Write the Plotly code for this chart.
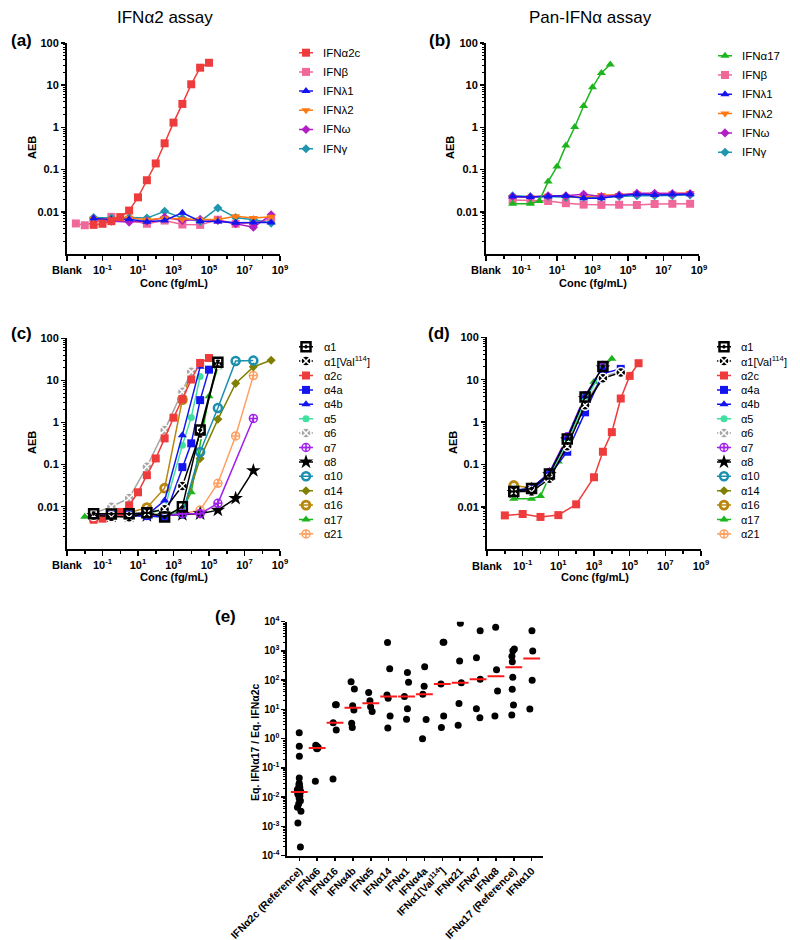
import numpy as np
import plotly.graph_objects as go

W, H = 800, 940
FONT = "Liberation Sans, Arial, sans-serif"

# ---------------- data: concentrations given as log10(fg/mL) ----------------
BASE_LOGX = [-1.5, -0.5, 0.5, 1.5, 2.5, 3.5, 4.5, 5.5, 6.5, 7.5, 8.5]

# (a) IFNα2 assay
A_A2C_LOGX = [-1.5, -1, -0.5, 0, 0.5, 1, 1.5, 2, 2.5, 3, 3.5, 4, 4.5, 5]
A_A2C_AEB = [0.0049, 0.0052, 0.006, 0.0075, 0.0107, 0.022, 0.056, 0.14, 0.42, 1.3, 3.6, 10.5, 26, 34]
A_BETA_LOGX = [-2.5, -2, -0.5, 1.5, 2.5, 3.5, 4.5, 5.5, 6.5, 7.5, 8.5]
A_BETA_AEB = [0.0053, 0.0048, 0.0076, 0.0052, 0.0062, 0.005, 0.0049, 0.0065, 0.0052, 0.0055, 0.0068]
A_L1_AEB = [0.0069, 0.0066, 0.0067, 0.0058, 0.0062, 0.0095, 0.006, 0.0059, 0.0055, 0.0056, 0.0056]
A_L2_AEB = [0.0068, 0.0068, 0.0072, 0.0065, 0.007, 0.0067, 0.0066, 0.0066, 0.0078, 0.0071, 0.0076]
A_OMEGA_AEB = [0.0068, 0.006, 0.0057, 0.006, 0.0074, 0.0062, 0.0066, 0.0062, 0.0052, 0.0043, 0.0085]
A_GAMMA_AEB = [0.0073, 0.0071, 0.0073, 0.0071, 0.0103, 0.0071, 0.0059, 0.0123, 0.0073, 0.0065, 0.0054]

# (b) Pan-IFNα assay
B_A17_LOGX = [-1.5, -0.5, 0, 0.5, 1, 1.5, 2, 2.5, 3, 3.5, 4]
B_A17_AEB = [0.0155, 0.0155, 0.018, 0.052, 0.118, 0.37, 1.02, 3.2, 8.9, 19.5, 31]
B_BETA_AEB = [0.019, 0.0185, 0.018, 0.016, 0.0148, 0.0146, 0.0147, 0.0145, 0.0153, 0.0155, 0.0155]
B_L1_AEB = [0.023, 0.0225, 0.023, 0.024, 0.021, 0.021, 0.024, 0.026, 0.025, 0.026, 0.026]
B_L2_AEB = [0.022, 0.022, 0.024, 0.023, 0.022, 0.025, 0.025, 0.027, 0.026, 0.027, 0.028]
B_OMEGA_AEB = [0.023, 0.0225, 0.024, 0.024, 0.026, 0.023, 0.025, 0.0275, 0.0275, 0.027, 0.027]
B_GAMMA_AEB = [0.024, 0.023, 0.023, 0.022, 0.022, 0.022, 0.023, 0.024, 0.024, 0.024, 0.025]

# (c) IFNα2 assay, IFNα subtypes
C_SERIES = {
    "α1": ([-1.5, -0.5, 0.5, 1.5, 2.5, 3.5, 4.5, 5.5],
           [0.0068, 0.0067, 0.0068, 0.0072, 0.0057, 0.01, 0.66, 27]),
    "α1[Val114]": ([-1.5, -0.5, 0.5, 1.5, 2.5, 3.5, 4.5, 5.5],
                   [0.0062, 0.0058, 0.0056, 0.0072, 0.0087, 0.031, 0.55, 25]),
    "α2c": (A_A2C_LOGX, A_A2C_AEB),
    "α4a": ([-1.5, -0.5, 0.5, 1.5, 2.5, 3.5, 4.0, 4.5, 5.0],
            [0.0064, 0.0063, 0.0062, 0.006, 0.0056, 0.087, 0.32, 3.4, 18]),
    "α4b": ([-1.5, -0.5, 0.5, 1.5, 2.5, 3.5, 4.5],
            [0.0066, 0.0066, 0.0065, 0.0063, 0.014, 0.5, 21]),
    "α5": ([-1.5, -0.5, 0.5, 1.5, 2.5, 3.5, 4.0, 4.5],
           [0.0065, 0.0065, 0.0064, 0.0066, 0.009, 0.29, 1.32, 12.3]),
    "α6": ([-1.5, -0.5, 0.5, 1.5, 2.5, 3.5, 4.0],
           [0.007, 0.01, 0.016, 0.089, 0.66, 5.4, 16]),
    "α7": ([-1.5, -0.5, 0.5, 1.5, 2.5, 3.5, 4.5, 5.5, 7.5],
           [0.0065, 0.0064, 0.0063, 0.0062, 0.006, 0.0068, 0.0068, 0.012, 1.25]),
    "α8": ([-1.5, -0.5, 0.5, 1.5, 2.5, 3.5, 4.5, 5.5, 6.5, 7.5],
           [0.0062, 0.006, 0.006, 0.0062, 0.0062, 0.0065, 0.0068, 0.0083, 0.0158, 0.072]),
    "α10": ([-1.5, -0.5, 0.5, 1.5, 2.5, 3.5, 4.5, 5.5, 6.5, 7.5],
            [0.0066, 0.0065, 0.0066, 0.0065, 0.0065, 0.0068, 0.2, 2.2, 29, 29.5]),
    "α14": ([-1.5, -0.5, 0.5, 1.5, 2.5, 3.5, 4.5, 5.5, 6.5, 7.5, 8.5],
            [0.0065, 0.0064, 0.0065, 0.0064, 0.0063, 0.0066, 0.14, 1.19, 8.5, 21, 30]),
    "α16": ([-1.5, -0.5, 0.5, 1.5, 2.5, 3.5, 4.0],
            [0.0068, 0.0068, 0.0072, 0.0095, 0.0275, 3.5, 16]),
    "α17": ([-2.0, -1.5, -0.5, 0.5, 1.5, 2.5, 3.5, 4.0, 5.0, 5.5],
            [0.0058, 0.006, 0.0062, 0.0062, 0.0063, 0.0065, 0.0085, 0.022, 4.2, 20.5]),
    "α21": ([-1.5, -0.5, 0.5, 1.5, 2.5, 3.5, 4.5, 5.5, 6.5, 7.5],
            [0.0066, 0.0066, 0.0065, 0.0066, 0.0066, 0.0068, 0.0083, 0.036, 0.48, 13]),
}

# (d) Pan-IFNα assay, IFNα subtypes
D_LOGX = [-1.5, -0.5, 0.5, 1.5, 2.5, 3.5, 4.5]
D_SERIES = {
    "α1": (D_LOGX[:6], [0.023, 0.027, 0.06, 0.4, 3.9, 20.5]),
    "α1[Val114]": (D_LOGX, [0.023, 0.023, 0.046, 0.27, 2.5, 10.8, 14.8]),
    "α2c": ([-2, -1, 0, 1, 2, 3, 3.5, 4, 4.5, 5, 5.5],
            [0.0063, 0.0068, 0.0058, 0.0064, 0.0115, 0.05, 0.2, 0.58, 3.6, 12.3, 24.5]),
    "α4a": (D_LOGX, [0.023, 0.025, 0.055, 0.2, 1.7, 14, 18]),
    "α4b": (D_LOGX[:6], [0.024, 0.028, 0.062, 0.42, 4.0, 19]),
    "α5": (D_LOGX[:6], [0.022, 0.025, 0.055, 0.35, 3.2, 18]),
    "α6": (D_LOGX, [0.024, 0.027, 0.05, 0.3, 2.8, 12, 15.5]),
    "α7": (D_LOGX[:6], [0.023, 0.027, 0.065, 0.45, 4.2, 20]),
    "α8": (D_LOGX[:6], [0.022, 0.026, 0.058, 0.38, 3.6, 19]),
    "α10": (D_LOGX[:6], [0.025, 0.027, 0.06, 0.4, 3.8, 20]),
    "α14": (D_LOGX[:6], [0.022, 0.026, 0.06, 0.38, 3.7, 19]),
    "α16": (D_LOGX[:6], [0.032, 0.028, 0.058, 0.38, 3.5, 18]),
    "α17": (B_A17_LOGX, B_A17_AEB),
    "α21": (D_LOGX[:6], [0.023, 0.026, 0.055, 0.36, 3.4, 18]),
}

# (e) ratio of equivalent concentrations
E_CATS = ["IFNα2c (Reference)", "IFNα6", "IFNα16", "IFNα4b", "IFNα5", "IFNα14", "IFNα1",
          "IFNα4a", "IFNα1[Val114]", "IFNα21", "IFNα7", "IFNα8", "IFNα17 (Reference)", "IFNα10"]
E_LABELS = ["IFNα2c (Reference)", "IFNα6", "IFNα16", "IFNα4b", "IFNα5", "IFNα14", "IFNα1",
            "IFNα4a", "IFNα1[Val<sup>114</sup>]", "IFNα21", "IFNα7", "IFNα8", "IFNα17 (Reference)", "IFNα10"]
E_VALUES = [
    [1.6, 0.55, 0.25, 0.045, 0.03, 0.027, 0.025, 0.022, 0.02, 0.018, 0.016, 0.015,
     0.014, 0.013, 0.012, 0.011, 0.009, 0.0075, 0.006, 0.0045, 0.0033, 0.0013, 0.0002],
    [0.6, 0.55, 0.5, 0.47, 0.45, 0.035],
    [14.5, 14.5, 3.5, 2.0, 0.042],
    [88, 50, 13.5, 9.5, 3.4, 2.4],
    [38, 20, 12.3, 8.5],
    [1950, 245, 31, 24, 6, 2.3],
    [185, 85, 27.5, 10.5, 4.6],
    [290, 62, 33, 4.5, 1.0],
    [2000, 2000, 74, 6, 2.4],
    [8800, 455, 82, 16, 2.9],
    [4900, 590, 107, 10.5, 5.2],
    [6400, 229, 43, 6],
    [1170, 1020, 656, 430, 125, 49, 14.2, 6.5],
    [4900, 1000, 100, 10.4],
]

# ---------------- styles ----------------
STY = {
    "IFNα2c": dict(color="#EE3B3B", symbol="square", size=8),
    "IFNβ": dict(color="#F0679A", symbol="square", size=8),
    "IFNλ1": dict(color="#1414EE", symbol="triangle-up", size=8),
    "IFNλ2": dict(color="#FF7A12", symbol="triangle-down", size=8),
    "IFNω": dict(color="#B01EC4", symbol="diamond", size=7),
    "IFNγ": dict(color="#1E96AE", symbol="diamond", size=7),
    "IFNα17": dict(color="#1DB51D", symbol="triangle-up", size=8),
    "α1": dict(color="black", symbol="square-open-dot", size=9, lw=2.5),
    "α1[Val114]": dict(color="black", symbol="circle-x", size=10, lw=1.5, lc="white"),
    "α2c": dict(color="#EE3B3B", symbol="square", size=8),
    "α4a": dict(color="#1414EE", symbol="square", size=8),
    "α4b": dict(color="#1414EE", symbol="triangle-up", size=8),
    "α5": dict(color="#3FE0A0", symbol="circle", size=7),
    "α6": dict(color="#A6A6A6", symbol="circle-x", size=10, lw=1.5, lc="white"),
    "α7": dict(color="#A020F0", symbol="circle-cross-open", size=8, lw=1.5),
    "α8": dict(color="black", symbol="star", size=11),
    "α10": dict(color="#1A8FAE", symbol="circle-open", size=8, lw=2.5),
    "α14": dict(color="#808000", symbol="diamond", size=7),
    "α16": dict(color="#B8860B", symbol="circle-open", size=8, lw=2.8),
    "α17": dict(color="#1DB51D", symbol="triangle-up", size=8),
    "α21": dict(color="#FFA060", symbol="circle-cross-open", size=8, lw=1.5),
}


def marker_of(s):
    st = STY[s]
    return dict(color=st["color"], symbol=st["symbol"], size=st["size"],
                line=dict(width=st.get("lw", 0), color=st.get("lc", st["color"])))


fig = go.Figure()


def add_curve(ax, name, logx, vals):
    fig.add_trace(go.Scatter(
        x=[10.0 ** v for v in logx], y=vals, mode="lines+markers", name=name,
        line=dict(color=STY[name]["color"], width=1.5), marker=marker_of(name),
        xaxis="x" + ax, yaxis="y" + ax, showlegend=False, cliponaxis=False))


# panel (a)
add_curve("", "IFNβ", A_BETA_LOGX, A_BETA_AEB)
add_curve("", "IFNγ", BASE_LOGX, A_GAMMA_AEB)
add_curve("", "IFNω", BASE_LOGX, A_OMEGA_AEB)
add_curve("", "IFNλ2", BASE_LOGX, A_L2_AEB)
add_curve("", "IFNλ1", BASE_LOGX, A_L1_AEB)
add_curve("", "IFNα2c", A_A2C_LOGX, A_A2C_AEB)
# panel (b)
add_curve("2", "IFNβ", BASE_LOGX, B_BETA_AEB)
add_curve("2", "IFNγ", BASE_LOGX, B_GAMMA_AEB)
add_curve("2", "IFNλ2", BASE_LOGX, B_L2_AEB)
add_curve("2", "IFNω", BASE_LOGX, B_OMEGA_AEB)
add_curve("2", "IFNλ1", BASE_LOGX, B_L1_AEB)
add_curve("2", "IFNα17", B_A17_LOGX, B_A17_AEB)
# panels (c), (d)
for k in reversed(list(C_SERIES.keys())):
    add_curve("3", k, *C_SERIES[k])
for k in reversed(list(D_SERIES.keys())):
    add_curve("4", k, *D_SERIES[k])

# panel (e)
ex, ey = [], []
for c, vals in zip(E_CATS, E_VALUES):
    ex += [c] * len(vals)
    ey += vals
fig.add_trace(go.Box(x=ex, y=ey, xaxis="x5", yaxis="y5", boxpoints="all", jitter=0.4,
                     pointpos=0, width=0.6, fillcolor="rgba(0,0,0,0)",
                     line=dict(color="rgba(0,0,0,0)", width=0),
                     marker=dict(color="black", size=7, line=dict(width=0)),
                     showlegend=False, hoverinfo="y"))
fig.add_trace(go.Scatter(x=E_CATS, y=[float(np.median(v)) for v in E_VALUES], mode="markers",
                         marker=dict(symbol="line-ew", size=12, line=dict(color="#FF1A1A", width=2)),
                         xaxis="x5", yaxis="y5", showlegend=False))


# ---------------- axes ----------------
def dx(x0, x1):
    return [max(0, x0 / W), min(1, x1 / W)]


def dy(y_top, y_bot):
    return [max(0, 1 - y_bot / H), min(1, 1 - y_top / H)]


TICKF = dict(family=FONT, size=11, color="black", weight="bold")
X_EXP = [-3, -1, 1, 3, 5, 7, 9]
X_TXT = ["Blank"] + ["10<sup>%d</sup>" % e for e in X_EXP[1:]]
X_MINOR = [-2, 0, 2, 4, 6, 8]
Y_MINOR = [k * 10.0 ** e for e in range(-3, 2) for k in range(2, 10)]


def conc_x(x0, x1, anchor):
    return dict(domain=dx(x0, x1), anchor=anchor, type="log", range=[-3, 9], automargin=False,
                tickmode="array", tickvals=[10.0 ** e for e in X_EXP], ticktext=X_TXT,
                ticks="outside", ticklen=5, tickwidth=1.5, tickcolor="black",
                minor=dict(tickmode="array", tickvals=[10.0 ** e for e in X_MINOR],
                           ticks="outside", ticklen=3, tickwidth=1.5, tickcolor="black"),
                showline=True, linewidth=2, linecolor="black", showgrid=False,
                zeroline=False, tickfont=TICKF)


def aeb_y(y0, y1, anchor):
    return dict(domain=dy(y0, y1), anchor=anchor, type="log", range=[-3, 2], automargin=False,
                tickmode="array", tickvals=[0.01, 0.1, 1, 10, 100],
                ticktext=["0.01", "0.1", "1", "10", "100"],
                ticks="outside", ticklen=4, tickwidth=1.5, tickcolor="black",
                minor=dict(tickmode="array", tickvals=Y_MINOR, ticks="outside",
                           ticklen=2.5, tickwidth=1, tickcolor="black"),
                showline=True, linewidth=2, linecolor="black", showgrid=False,
                zeroline=False, tickfont=TICKF)


layout = dict(
    template="none",
    width=W, height=H, margin=dict(l=0, r=0, t=0, b=0, pad=0, autoexpand=False),
    paper_bgcolor="white", plot_bgcolor="white", showlegend=False,
    xaxis=conc_x(67, 280, "y"), yaxis=aeb_y(43, 254, "x"),
    xaxis2=conc_x(486, 699, "y2"), yaxis2=aeb_y(43, 254, "x2"),
    xaxis3=conc_x(67, 280, "y3"), yaxis3=aeb_y(338.3, 548.8, "x3"),
    xaxis4=conc_x(487, 701, "y4"), yaxis4=aeb_y(337.3, 549.3, "x4"),
    xaxis5=dict(domain=dx(287.3, 543.3), anchor="y5", type="category", automargin=False,
                categoryorder="array", categoryarray=E_CATS, range=[-0.67, 13.65],
                tickmode="array", tickvals=E_CATS, ticktext=E_LABELS, tickangle=-45,
                ticks="outside", ticklen=3, tickwidth=1.5, tickcolor="black",
                showline=True, linewidth=2, linecolor="black", showgrid=False,
                zeroline=False, tickfont=dict(family=FONT, size=10.5, color="black", weight="bold")),
    yaxis5=dict(domain=dy(621.7, 855.7), anchor="x5", type="log", range=[-4, 4], automargin=False,
                tickmode="array", tickvals=[10.0 ** e for e in range(-4, 5)],
                ticktext=["10<sup>%d</sup>" % e for e in range(-4, 5)],
                ticks="outside", ticklen=4, tickwidth=1.5, tickcolor="black",
                minor=dict(tickmode="array",
                           tickvals=[k * 10.0 ** e for e in range(-4, 4) for k in range(2, 10)],
                           ticks="outside", ticklen=2, tickwidth=1, tickcolor="black"),
                showline=True, linewidth=2, linecolor="black", showgrid=False,
                zeroline=False, tickfont=dict(family=FONT, size=10, color="black", weight="bold")),
)

annotations = []


def text(x, y, s, size=11, bold=True, angle=0, xanchor="center"):
    annotations.append(dict(x=x / W, y=1 - y / H, xref="paper", yref="paper", text=s,
                            showarrow=False, textangle=angle, xanchor=xanchor, yanchor="middle",
                            font=dict(family=FONT, size=size, color="black",
                                      weight="bold" if bold else "normal")))


text(165, 17, "IFNα2 assay", size=17, bold=False)
text(590, 17, "Pan-IFNα assay", size=17, bold=False)
for lbl, x, y in [("(a)", 21, 41), ("(b)", 440, 41), ("(c)", 21, 333), ("(d)", 439, 333), ("(e)", 226, 616)]:
    text(x, y, lbl, size=17)
for x, y in [(32, 148), (450, 148), (32, 443), (453, 443)]:
    text(x, y, "AEB", angle=-90)
for x, y in [(173.5, 283), (592.5, 283), (173.5, 577), (595, 577)]:
    text(x, y, "Conc (fg/mL)")
text(255, 742, "Eq. IFNα17 / Eq. IFNα2c", angle=-90, size=10.5)

# ---------------- custom legends ----------------
LEG_A = ["IFNα2c", "IFNβ", "IFNλ1", "IFNλ2", "IFNω", "IFNγ"]
LEG_B = ["IFNα17", "IFNβ", "IFNλ1", "IFNλ2", "IFNω", "IFNγ"]
LEG_CD = list(C_SERIES.keys())


def legend_label(n):
    return n.replace("[Val114]", "[Val<sup>114</sup>]")


def add_legend(idx, names, mx, y0, sp, tx, fsize):
    n = len(names)
    xa, ya = "xaxis%d" % idx, "yaxis%d" % idx
    layout[xa] = dict(domain=dx(mx - 15, mx + 70), range=[-15, 70], visible=False,
                      anchor="y%d" % idx, fixedrange=True, automargin=False)
    layout[ya] = dict(domain=dy(y0 - sp / 2, y0 + (n - 0.5) * sp), range=[n - 0.5, -0.5],
                      visible=False, anchor="x%d" % idx, fixedrange=True, automargin=False)
    for i, nm in enumerate(names):
        fig.add_trace(go.Scatter(x=[-7, 7], y=[i, i], mode="lines",
                                 line=dict(color=STY[nm]["color"], width=1.5),
                                 xaxis="x%d" % idx, yaxis="y%d" % idx, showlegend=False,
                                 hoverinfo="skip", cliponaxis=False))
        fig.add_trace(go.Scatter(x=[0], y=[i], mode="markers", marker=marker_of(nm),
                                 xaxis="x%d" % idx, yaxis="y%d" % idx, showlegend=False,
                                 hoverinfo="skip", cliponaxis=False))
        annotations.append(dict(x=tx - mx, y=i, xref="x%d" % idx, yref="y%d" % idx,
                                text=legend_label(nm), showarrow=False, xanchor="left",
                                yanchor="middle",
                                font=dict(family=FONT, size=fsize, color="black")))


add_legend(6, LEG_A, 306, 52.7, 19.2, 321, 11.5)
add_legend(7, LEG_B, 725, 55.7, 19.3, 740, 11.5)
add_legend(8, LEG_CD, 306, 346.7, 14.4, 321.5, 11)
add_legend(9, LEG_CD, 724, 346.7, 14.4, 739, 11)

layout["annotations"] = annotations
fig.update_layout(**layout)
fig.write_html("out.html", config={"displayModeBar": False, "staticPlot": True},
               post_script="document.body.style.margin='0px';")
